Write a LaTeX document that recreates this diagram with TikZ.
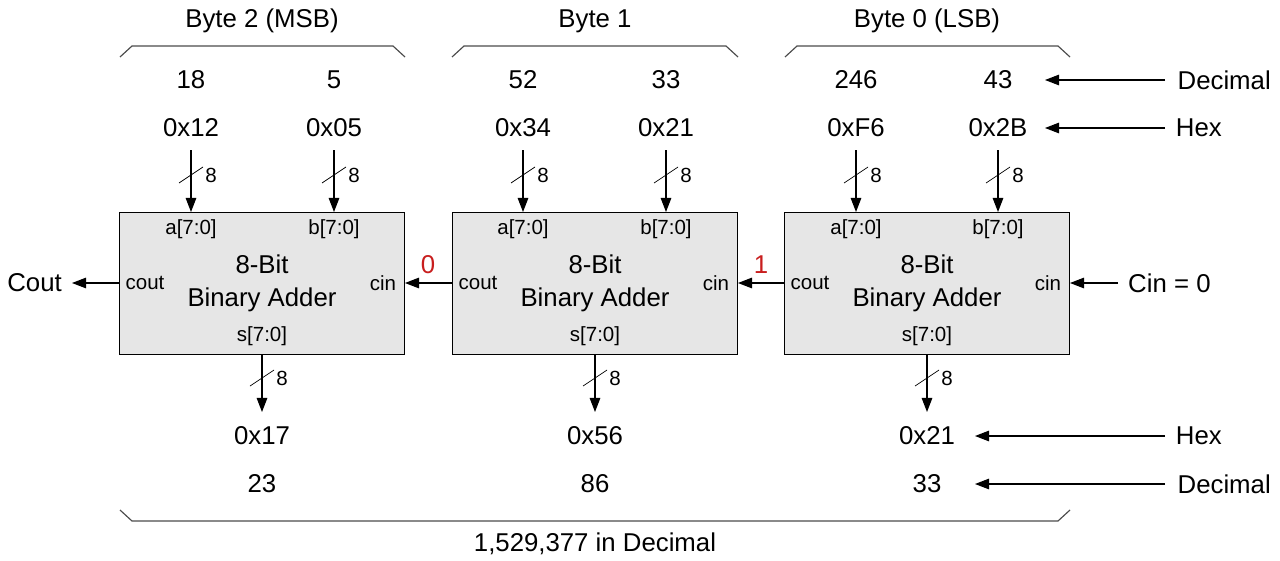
\documentclass[tikz,border=0pt]{standalone}
\usepackage{fontspec}
\setmainfont{Liberation Sans}
\usetikzlibrary{arrows.meta}
\definecolor{boxfill}{RGB}{230,230,230}
\definecolor{carry}{RGB}{200,30,30}
\begin{document}
\begin{tikzpicture}[x=0.03cm,y=-0.03cm,
  big/.style={font=\fontsize{22}{26}\selectfont,inner sep=0},
  small/.style={font=\fontsize{17.5}{20}\selectfont,inner sep=0},
  adder/.style={draw=black,fill=boxfill,line width=0.8pt,minimum width=8.55cm,minimum height=4.26cm,inner sep=0},
  wire/.style={line width=1pt,-{Triangle[length=12pt,width=9pt]}},
  brace/.style={draw=black!70,line width=1pt},
  bw/.style={line width=0.6pt}]
\useasboundingbox (0,0) rectangle (1280,561);
% adders
\foreach \n/\cx in {A/262,B/595,C/927}{
  \node[adder] (\n) at (\cx,283) {};
  \node[big,align=center] (\n t) at (\cx,283) {8-Bit\\[2pt]Binary Adder};
  \node[small] (\n s) at (\cx,336) {s[7:0]};
  \node[small] (\n co) at (\cx-117,283) {cout};
  \node[small] (\n ci) at (\cx+121,283) {cin};
}
% input ports
\foreach \n/\ax/\bx/\av/\ad/\bv/\bd in {A/191/334/0x12/18/0x05/5,B/523/666/0x34/52/0x21/33,C/856/998/0xF6/246/0x2B/43}{
  \node[small] at (\ax,229) {a[7:0]};
  \node[small] at (\bx,229) {b[7:0]};
  \node[big] (\n ha) at (\ax,128) {\av};
  \node[big] (\n hb) at (\bx,128) {\bv};
  \node[big] (\n da) at (\ax,80) {\ad};
  \node[big] (\n db) at (\bx,80) {\bd};
  \coordinate (\n pa) at (\ax,212);
  \coordinate (\n pb) at (\bx,212);
  \draw[wire] (\ax,150) -- (\n pa);
  \draw[wire] (\bx,150) -- (\n pb);
  \draw[bw] (\ax-12,183) -- (\ax+12,167);
  \draw[bw] (\bx-12,183) -- (\bx+12,167);
  \node[small] at (\ax+20,175) {8};
  \node[small] at (\bx+20,175) {8};
}
% outputs
\foreach \n/\cx/\hv/\dv in {A/262/0x17/23,B/595/0x56/86,C/927/0x21/33}{
  \node[big] (\n ho) at (\cx,436) {\hv};
  \node[big] (\n do) at (\cx,484) {\dv};
  \draw[wire] (\n.south -| \n s) -- (\cx,412);
  \draw[bw] (\cx-12,386) -- (\cx+12,370);
  \node[small] at (\cx+20,378) {8};
}
% carries
\node[big,anchor=east] (cout) at (62,283) {Cout};
\draw[wire] (A.west) -- (72,283);
\draw[wire] (B.west) -- (A.east);
\draw[wire] (C.west) -- (B.east);
\node[big,text=carry] at (428,265) {0};
\node[big,text=carry] at (761,265) {1};
\node[big,anchor=west] (cin) at (1128,283) {Cin = 0};
\draw[wire] (1118,283) -- (C.east);
% right labels
\node[big,anchor=east] (rd) at (1271,80) {Decimal};
\node[big,anchor=east] (rh) at (1222,128) {Hex};
\node[big,anchor=east] (rh2) at (1222,436) {Hex};
\node[big,anchor=east] (rd2) at (1271,484) {Decimal};
\draw[wire] (1165,80) -- (1045,80);
\draw[wire] (1165,128) -- (1045,128);
\draw[wire] (1165,436) -- (975,436);
\draw[wire] (1165,484) -- (975,484);
% braces
\node[big] at (262,21) {Byte 2 (MSB)};
\node[big] at (595,21) {Byte 1};
\node[big] at (927,21) {Byte 0 (LSB)};
\foreach \l/\r in {120/405,452/738,785/1070}{
  \draw[brace] (\l,57) -- (\l+12,46) -- (\r-12,46) -- (\r,57);
}
\draw[brace] (120,510) -- (132,521) -- (1058,521) -- (1070,510);
\node[big] at (595,544) {1,529,377 in Decimal};
\end{tikzpicture}
\end{document}
